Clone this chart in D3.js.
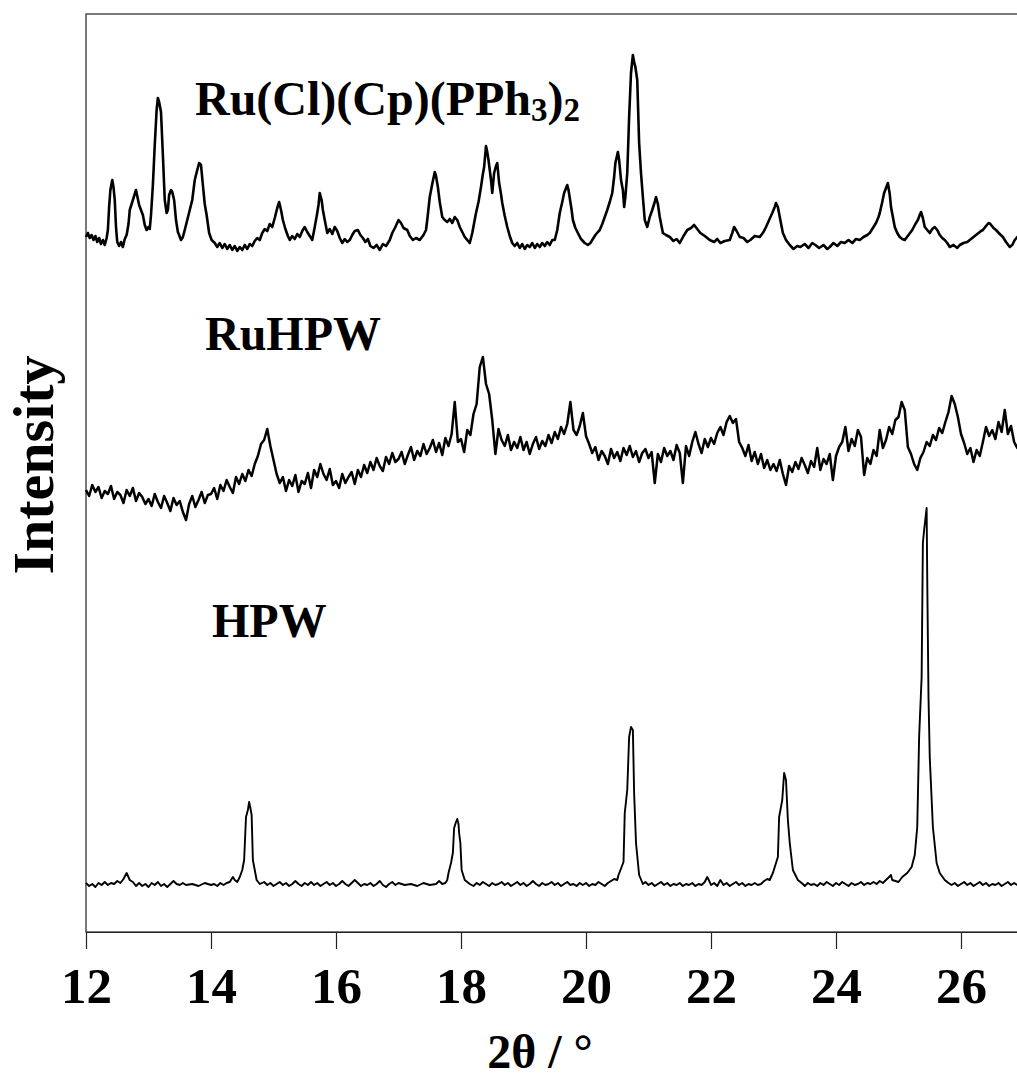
<!DOCTYPE html>
<html>
<head>
<meta charset="utf-8">
<script src="https://d3js.org/d3.v7.min.js"></script>
<style>
  body { margin: 0; background: #fff; }
  text { font-family: "Liberation Serif", "Times New Roman", serif; font-weight: bold; fill: #000; }
  .trace { fill: none; stroke: #000; stroke-linejoin: round; }
</style>
</head>
<body>
<script>
// x ticks (2theta, degrees)
const xTicks = [12, 14, 16, 18, 20, 22, 24, 26];

// Ru(Cl)(Cp)(PPh3)2 pattern, [2theta, intensity a.u. incl. offset]
const ruComplex = [
[12.00,695],[12.03,699],[12.06,694],[12.09,697],[12.12,692],[12.15,696],[12.18,690],[12.21,694],[12.24,688],[12.27,692],[12.3,687],[12.33,694],[12.35,702],[12.37,725],[12.39,742],[12.42,752],[12.44,745],[12.46,732],[12.48,705],[12.5,690],[12.53,686],[12.56,690],[12.59,685],[12.62,693],[12.65,697],[12.68,708],[12.7,722],[12.73,728],[12.75,732],[12.78,738],[12.8,742],[12.82,736],[12.85,727],[12.88,722],[12.91,717],[12.94,707],[12.97,702],[13.0,705],[13.02,703],[13.04,717],[13.07,747],[13.1,787],[13.13,822],[13.15,834],[13.17,830],[13.2,820],[13.23,777],[13.26,732],[13.29,719],[13.31,722],[13.33,737],[13.36,742],[13.38,740],[13.41,732],[13.44,712],[13.47,700],[13.49,697],[13.52,692],[13.55,695],[13.58,702],[13.62,712],[13.66,722],[13.7,732],[13.74,752],[13.78,762],[13.81,769],[13.84,767],[13.87,747],[13.9,728],[13.93,717],[13.97,699],[14.01,692],[14.06,689],[14.1,685],[14.14,689],[14.18,684],[14.22,688],[14.26,683],[14.3,687],[14.34,682],[14.38,686],[14.42,681],[14.46,685],[14.5,682],[14.54,687],[14.58,683],[14.62,688],[14.66,686],[14.7,691],[14.74,694],[14.78,692],[14.82,699],[14.86,703],[14.9,701],[14.94,708],[14.98,705],[15.02,714],[15.06,724],[15.09,730],[15.12,722],[15.15,712],[15.19,703],[15.23,696],[15.26,692],[15.3,696],[15.34,693],[15.38,698],[15.42,695],[15.46,701],[15.5,705],[15.54,700],[15.58,696],[15.62,692],[15.66,705],[15.7,719],[15.72,727],[15.74,739],[15.77,732],[15.79,722],[15.82,712],[15.86,699],[15.9,703],[15.94,698],[15.98,705],[16.02,701],[16.06,694],[16.1,689],[16.14,693],[16.18,690],[16.22,692],[16.26,697],[16.3,701],[16.35,702],[16.39,697],[16.43,694],[16.47,690],[16.51,693],[16.55,686],[16.6,684],[16.65,687],[16.7,682],[16.75,688],[16.8,686],[16.86,692],[16.9,699],[16.95,705],[17.0,712],[17.04,709],[17.08,704],[17.14,702],[17.18,696],[17.23,692],[17.28,694],[17.34,692],[17.4,697],[17.44,702],[17.46,712],[17.5,735],[17.54,748],[17.58,760],[17.6,756],[17.63,745],[17.66,730],[17.7,715],[17.74,712],[17.78,710],[17.82,713],[17.86,709],[17.9,715],[17.94,712],[17.98,705],[18.02,700],[18.06,695],[18.1,692],[18.14,689],[18.18,699],[18.24,719],[18.28,730],[18.32,745],[18.35,758],[18.37,765],[18.4,786],[18.42,780],[18.44,772],[18.46,762],[18.48,752],[18.5,739],[18.53,759],[18.56,766],[18.58,769],[18.61,749],[18.64,738],[18.66,729],[18.7,716],[18.74,705],[18.78,696],[18.82,689],[18.86,686],[18.9,689],[18.94,684],[18.98,688],[19.02,683],[19.06,687],[19.1,685],[19.14,689],[19.18,684],[19.22,688],[19.26,685],[19.3,689],[19.34,686],[19.38,690],[19.42,687],[19.46,692],[19.5,692],[19.54,702],[19.58,719],[19.62,730],[19.65,739],[19.7,747],[19.72,742],[19.74,734],[19.77,722],[19.79,712],[19.83,704],[19.87,699],[19.92,693],[19.98,689],[20.03,687],[20.07,689],[20.11,693],[20.15,697],[20.19,700],[20.22,702],[20.26,708],[20.3,715],[20.34,722],[20.38,730],[20.42,739],[20.45,755],[20.47,769],[20.51,780],[20.53,772],[20.56,752],[20.59,742],[20.61,725],[20.63,735],[20.66,759],[20.69,815],[20.72,859],[20.75,877],[20.77,870],[20.79,865],[20.82,852],[20.85,789],[20.88,759],[20.91,735],[20.94,712],[20.98,705],[21.02,715],[21.06,722],[21.1,730],[21.12,735],[21.15,728],[21.18,715],[21.23,699],[21.28,697],[21.34,695],[21.4,691],[21.45,693],[21.5,689],[21.56,696],[21.62,702],[21.68,704],[21.73,707],[21.78,703],[21.83,699],[21.9,696],[21.98,692],[22.05,690],[22.1,693],[22.15,689],[22.22,691],[22.3,692],[22.34,699],[22.37,705],[22.41,701],[22.46,695],[22.52,694],[22.58,690],[22.63,692],[22.7,696],[22.78,695],[22.84,700],[22.88,705],[22.93,712],[22.98,719],[23.02,725],[23.04,729],[23.07,725],[23.1,715],[23.15,699],[23.2,692],[23.26,687],[23.32,683],[23.38,686],[23.43,685],[23.5,688],[23.56,684],[23.62,689],[23.67,687],[23.73,684],[23.8,687],[23.86,683],[23.9,685],[23.96,689],[24.02,686],[24.08,690],[24.14,689],[24.2,692],[24.26,689],[24.32,693],[24.38,692],[24.44,695],[24.5,697],[24.54,699],[24.6,705],[24.64,709],[24.68,715],[24.7,719],[24.74,730],[24.77,739],[24.8,744],[24.83,749],[24.86,738],[24.88,725],[24.91,715],[24.94,705],[24.98,699],[25.02,695],[25.06,693],[25.1,692],[25.16,697],[25.22,702],[25.27,708],[25.31,712],[25.34,717],[25.36,720],[25.39,714],[25.42,705],[25.46,702],[25.5,699],[25.54,703],[25.58,705],[25.62,702],[25.66,697],[25.7,694],[25.74,692],[25.78,689],[25.82,685],[25.88,687],[25.94,684],[25.98,687],[26.04,689],[26.1,690],[26.14,692],[26.2,695],[26.26,698],[26.32,701],[26.35,702],[26.4,706],[26.44,709],[26.47,708],[26.52,704],[26.56,702],[26.62,698],[26.67,695],[26.72,690],[26.78,685],[26.82,687],[26.86,692],[26.9,695],[26.95,697]
];

// RuHPW pattern, scanned from 12.00 in 0.05 deg steps
const ruhpwStart = 12, ruhpwStep = 0.05;
const ruhpw = [
442,436,447,440,445,434,441,438,446,433,440,437,429,442,436,444,431,439,435,428,
433,426,438,430,424,436,429,421,434,427,431,420,412,428,436,425,432,440,429,437,
438,444,433,447,441,452,445,439,455,448,458,451,462,456,468,476,488,492,503,486,
472,458,449,455,441,452,446,457,440,451,448,459,444,462,455,468,458,452,463,447,
451,444,458,449,455,460,448,462,455,467,459,470,462,474,466,461,475,468,479,470,
473,480,468,477,485,472,481,476,488,478,484,492,480,489,477,494,486,498,530,490,
493,480,502,497,518,528,565,575,548,538,512,478,503,492,486,497,482,490,484,495,
482,490,478,488,495,483,491,486,497,489,500,493,505,498,508,530,502,497,506,519,
496,488,479,485,472,481,476,468,483,474,480,471,484,477,486,475,481,470,479,483,
474,480,449,478,470,484,476,481,472,487,479,449,486,476,490,500,488,479,493,485,
494,488,499,505,497,510,516,509,513,490,484,476,487,471,480,468,478,464,472,462,
468,461,472,458,447,466,460,470,463,474,467,459,471,465,484,462,473,468,478,452,
476,485,490,505,481,493,486,502,495,457,474,468,482,476,502,484,492,505,498,512,
515,530,522,485,478,468,462,474,480,490,486,497,492,504,499,510,520,536,528,515,
498,489,478,484,470,482,476,490,505,496,502,493,510,500,522,498,506,490,484,488
];

// HPW pattern, [2theta, intensity a.u.]
const hpw = [
[12.0,49],[12.05,46],[12.1,48],[12.15,45],[12.2,49],[12.25,47],[12.3,50],[12.35,47],[12.4,49],[12.45,48],[12.5,51],[12.55,49],[12.6,53],[12.65,59],[12.7,52],[12.75,50],[12.8,46],[12.85,49],[12.9,46],[12.95,48],[13.0,45],[13.05,49],[13.1,47],[13.15,50],[13.2,46],[13.25,48],[13.3,45],[13.35,48],[13.4,51],[13.45,48],[13.5,47],[13.55,49],[13.6,47],[13.7,48],[13.8,46],[13.9,49],[14.0,47],[14.05,48],[14.1,46],[14.15,49],[14.2,47],[14.25,49],[14.3,50],[14.35,55],[14.38,52],
[14.42,50],[14.46,55],[14.5,62],[14.53,72],[14.56,115],[14.59,122],[14.61,130],[14.63,124],[14.65,117],[14.67,72],[14.7,62],[14.73,52],[14.78,48],
[14.85,50],[14.9,47],[14.95,49],[15.0,46],[15.05,48],[15.1,50],[15.15,47],[15.2,49],[15.25,46],[15.3,48],[15.35,51],[15.4,48],[15.45,46],[15.5,49],[15.55,47],[15.6,50],[15.65,47],[15.7,49],[15.75,46],[15.8,48],[15.85,50],[15.9,47],[15.95,49],[16.0,46],[16.05,48],[16.1,51],[16.15,48],[16.2,46],[16.25,49],[16.3,52],[16.35,49],[16.4,46],[16.45,48],[16.5,47],[16.55,49],[16.6,46],[16.65,48],[16.7,51],[16.75,47],[16.8,45],[16.85,48],[16.9,50],[16.95,47],[17.0,49],[17.1,47],[17.2,48],[17.3,46],[17.4,49],[17.5,47],[17.6,48],[17.65,51],[17.7,48],[17.75,49],
[17.78,52],[17.8,59],[17.84,69],[17.87,79],[17.89,104],[17.92,110],[17.94,113],[17.96,108],[17.97,99],[17.99,89],[18.01,62],[18.06,52],[18.14,48],
[18.2,46],[18.25,49],[18.3,47],[18.35,50],[18.4,48],[18.45,46],[18.5,49],[18.55,47],[18.6,48],[18.65,50],[18.7,47],[18.75,49],[18.8,46],[18.85,48],[18.9,50],[18.95,47],[19.0,49],[19.05,46],[19.1,48],[19.15,51],[19.2,48],[19.25,46],[19.3,49],[19.35,47],[19.4,48],[19.45,50],[19.5,47],[19.55,49],[19.6,46],[19.65,48],[19.7,50],[19.75,47],[19.8,48],[19.85,46],[19.9,49],[19.95,47],[20.0,49],[20.05,46],[20.1,48],[20.15,47],[20.2,50],[20.25,48],[20.3,46],[20.35,49],[20.4,51],[20.45,53],[20.5,52],
[20.52,57],[20.57,65],[20.6,70],[20.62,119],[20.66,142],[20.69,195],[20.72,205],[20.75,202],[20.77,139],[20.8,89],[20.85,57],[20.91,48],
[20.95,50],[21.0,47],[21.05,49],[21.1,46],[21.15,48],[21.2,50],[21.25,47],[21.3,49],[21.35,46],[21.4,48],[21.45,47],[21.5,49],[21.55,46],[21.6,48],[21.65,47],[21.7,49],[21.75,46],[21.8,48],[21.85,47],[21.9,50],[21.94,55],[21.98,50],[22.0,47],[22.05,49],[22.1,46],[22.15,52],[22.2,47],[22.25,49],[22.3,46],[22.35,48],[22.4,50],[22.45,47],[22.5,49],[22.55,46],[22.6,48],[22.65,47],[22.7,49],[22.75,47],[22.8,48],[22.85,51],[22.9,53],
[22.94,52],[22.99,59],[23.07,75],[23.09,115],[23.14,132],[23.17,159],[23.2,152],[23.23,112],[23.26,89],[23.31,62],[23.39,52],[23.47,48],
[23.5,46],[23.55,49],[23.6,47],[23.65,48],[23.7,46],[23.75,49],[23.8,47],[23.85,50],[23.9,48],[23.95,46],[24.0,49],[24.05,47],[24.1,50],[24.15,48],[24.2,46],[24.25,49],[24.3,47],[24.35,48],[24.4,50],[24.45,47],[24.5,49],[24.55,48],[24.6,50],[24.65,48],[24.7,51],[24.75,49],[24.8,52],[24.85,55],[24.88,57],
[24.9,52],[25.0,50],[25.06,55],[25.14,59],[25.21,65],[25.26,77],[25.3,105],[25.33,195],[25.37,255],[25.39,389],[25.41,402],[25.45,424],[25.46,352],[25.48,235],[25.5,175],[25.55,105],[25.61,69],[25.66,59],[25.74,52],[25.8,49],
[25.85,47],[25.9,49],[25.95,46],[26.0,48],[26.05,50],[26.1,47],[26.15,49],[26.2,46],[26.25,48],[26.3,50],[26.35,47],[26.4,49],[26.45,46],[26.5,48],[26.55,47],[26.6,49],[26.65,46],[26.7,48],[26.75,50],[26.8,47],[26.85,49],[26.9,47],[26.95,48],[27.0,47]
];

const width = 1017, height = 1079;

const svg = d3.select("body").append("svg")
    .attr("width", width)
    .attr("height", height);

const x = d3.scaleLinear().domain([12, 27]).range([86, 1023.5]);
const y = d3.scaleLinear().domain([0, 918]).range([932, 14]);

// frame (right edge falls outside the picture)
svg.append("rect")
    .attr("x", x(12)).attr("y", y(918))
    .attr("width", x(27) - x(12)).attr("height", y(0) - y(918))
    .attr("fill", "none").attr("stroke", "#222").attr("stroke-width", 1.2);

const xAxis = d3.axisBottom(x)
    .tickValues(xTicks)
    .tickSize(17)
    .tickSizeOuter(0)
    .tickPadding(18)
    .tickFormat(d3.format("d"));

const gx = svg.append("g")
    .attr("transform", "translate(0," + y(0) + ")")
    .call(xAxis);
gx.select(".domain").attr("stroke", "#222").attr("stroke-width", 1.2);
gx.selectAll(".tick line").attr("stroke", "#222").attr("stroke-width", 1.2);
gx.selectAll(".tick text")
    .style("font-family", '"Liberation Serif", "Times New Roman", serif')
    .style("font-weight", "bold")
    .style("font-size", "51px")
    .attr("fill", "#000");

const line = d3.line().x(d => x(d[0])).y(d => y(d[1]));

svg.append("path").datum(ruComplex)
    .attr("class", "trace").attr("stroke-width", 2.6).attr("d", line);

svg.append("path").datum(ruhpw.map((v, i) => [ruhpwStart + i * ruhpwStep, v]))
    .attr("class", "trace").attr("stroke-width", 2.5).attr("d", line);

svg.append("path").datum(hpw)
    .attr("class", "trace").attr("stroke-width", 1.9).attr("d", line);

// sample labels
const lab1 = svg.append("text")
    .attr("x", x(13.744)).attr("y", y(817))
    .style("font-size", "48px");
lab1.append("tspan").text("Ru(Cl)(Cp)(PPh");
lab1.append("tspan").attr("dy", 6).style("font-size", "33px").text("3");
lab1.append("tspan").attr("dy", -6).text(")");
lab1.append("tspan").attr("dy", 6).style("font-size", "33px").text("2");

svg.append("text")
    .attr("x", x(13.904)).attr("y", y(582))
    .style("font-size", "48px")
    .text("RuHPW");

svg.append("text")
    .attr("x", x(14.016)).attr("y", y(295))
    .style("font-size", "48px")
    .text("HPW");

// axis titles
svg.append("text")
    .attr("x", 540).attr("y", 1068)
    .attr("text-anchor", "middle")
    .style("font-size", "48px")
    .text("2θ / °");

svg.append("text")
    .attr("transform", "translate(53,465) rotate(-90)")
    .attr("text-anchor", "middle")
    .style("font-size", "58px")
    .text("Intensity");
</script>
</body>
</html>
